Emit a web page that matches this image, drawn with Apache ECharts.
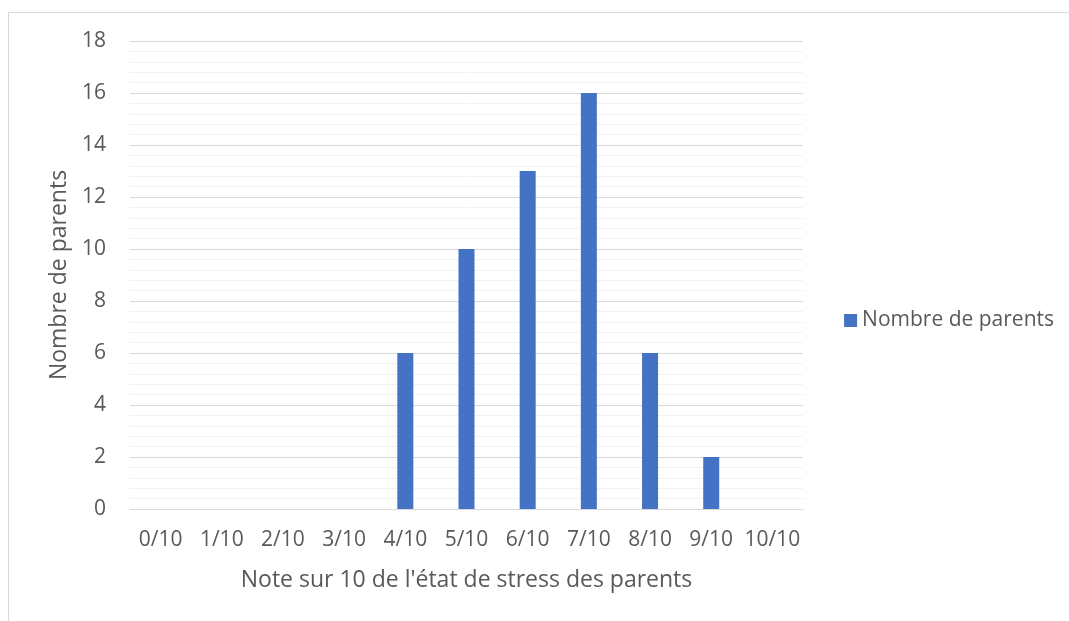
<!DOCTYPE html>
<html>
<head>
    <meta charset="UTF-8">
    <title>Stress des parents</title>
    <script src="https://cdn.jsdelivr.net/npm/echarts@6/dist/echarts.min.js"></script>
    <style>
        html, body { margin: 0; padding: 0; background: #fff; }
        #main { width: 1069px; height: 621px; }
    </style>
</head>
<body>
<div id="main"></div>
<script>
    var categories = ['0/10', '1/10', '2/10', '3/10', '4/10', '5/10', '6/10', '7/10', '8/10', '9/10', '10/10'];
    var parentCounts = [0, 0, 0, 0, 6, 10, 13, 16, 6, 2, 0];
    var seriesName = 'Nombre de parents';

    var myChart = echarts.init(document.getElementById('main'));
    var font = 'Open Sans, Noto Sans, sans-serif';

    var option = {
        animation: false,
        graphic: [{
            type: 'rect',
            shape: { x: 8.5, y: 12.5, width: 1070, height: 620 },
            style: { fill: 'none', stroke: '#d9d9d9', lineWidth: 1 }
        }],
        legend: {
            right: 10,
            top: 305,
            orient: 'vertical',
            itemWidth: 13,
            itemHeight: 13,
            itemGap: 5,
            icon: 'rect',
            textStyle: { color: '#595959', fontSize: 21, fontFamily: font },
            data: [seriesName]
        },
        grid: { left: 130, right: 266, top: 41, bottom: 112 },
        xAxis: {
            type: 'category',
            data: categories,
            name: "Note sur 10 de l'état de stress des parents",
            nameLocation: 'middle',
            nameGap: 60,
            nameTextStyle: { color: '#595959', fontSize: 23, fontFamily: font },
            axisLine: { lineStyle: { color: '#d9d9d9', width: 1 } },
            axisTick: { show: false },
            axisLabel: { color: '#595959', fontSize: 21, fontFamily: font, margin: 21, interval: 0 }
        },
        yAxis: {
            type: 'value',
            min: 0,
            max: 18,
            interval: 2,
            name: 'Nombre de parents',
            nameLocation: 'middle',
            nameGap: 54,
            nameTextStyle: { color: '#595959', fontSize: 23, fontFamily: font },
            axisLine: { show: false },
            axisTick: { show: false },
            axisLabel: { color: '#595959', fontSize: 21, fontFamily: font, margin: 24 },
            splitLine: { lineStyle: { color: '#d9d9d9', width: 1 } },
            minorTick: { show: false, splitNumber: 5 },
            minorSplitLine: { show: true, lineStyle: { color: '#f2f2f2', width: 1 } }
        },
        series: [{
            name: seriesName,
            type: 'bar',
            data: parentCounts,
            barWidth: 16,
            itemStyle: { color: '#4472c4' }
        }]
    };

    myChart.setOption(option);
</script>
</body>
</html>
